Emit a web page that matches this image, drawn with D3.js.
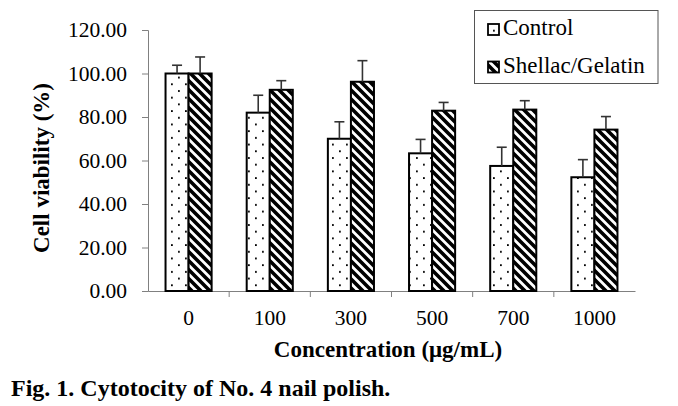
<!DOCTYPE html>
<html><head><meta charset="utf-8">
<script src="https://cdn.jsdelivr.net/npm/d3@7/dist/d3.min.js"></script>
<style>
body{margin:0;background:#fff}
svg{display:block}
svg text{font-family:"Liberation Serif","Times New Roman","Tinos",serif;}
</style>
</head><body><svg id="c" width="678" height="406"></svg>
<script>
const categories = ["0","100","300","500","700","1000"];
const seriesNames = ["Control","Shellac/Gelatin"];
const controlValues = [100, 82, 70, 63.3, 57.5, 52.3];
const controlErrors = [3.8, 8, 7.8, 6.4, 8.6, 8.1];
const shellacValues = [100, 92.5, 96.2, 82.9, 83.4, 74.2];
const shellacErrors = [7.6, 4.2, 9.7, 3.8, 4.1, 6];
const yTicks = [0,20,40,60,80,100,120];
const FONT = "Liberation Serif";

const svg = d3.select("#c");
const defs = svg.append("defs");
const dots = defs.append("pattern").attr("id","dots").attr("patternUnits","userSpaceOnUse")
  .attr("width",14).attr("height",13.4);
dots.append("rect").attr("width",14).attr("height",13.4).attr("fill","#fff");
dots.append("rect").attr("x",3).attr("y",3).attr("width",1.8).attr("height",1.8).attr("fill","#000");
dots.append("rect").attr("x",10).attr("y",9.7).attr("width",1.8).attr("height",1.8).attr("fill","#000");
const diag = defs.append("pattern").attr("id","diag").attr("patternUnits","userSpaceOnUse")
  .attr("width",9).attr("height",9);
diag.append("rect").attr("width",9).attr("height",9).attr("fill","#fff");
diag.append("path").attr("d","M-2,-2 L11,11 M-2,7 L2,11 M7,-2 L11,2").attr("stroke","#000").attr("stroke-width",3.6);

const x = d3.scaleBand().domain(categories).range([148,635]).paddingInner(35/81).paddingOuter(35/162);
const xs = d3.scaleBand().domain(seriesNames).range([0, x.bandwidth()]);
const y = d3.scaleLinear().domain([0,120]).range([291,30]);

const data = [];
categories.forEach((c,i)=>{
  data.push({c, s:seriesNames[0], v:controlValues[i], e:controlErrors[i], fill:"url(#dots)"});
  data.push({c, s:seriesNames[1], v:shellacValues[i], e:shellacErrors[i], fill:"url(#diag)"});
});

// axes
const yAxis = svg.append("g").attr("transform","translate(148,0)")
  .call(d3.axisLeft(y).tickValues(yTicks).tickFormat(d3.format(".2f")).tickSize(6).tickPadding(15));
yAxis.attr("font-family",FONT);
yAxis.select(".domain").attr("stroke","#808080");
yAxis.selectAll(".tick line").attr("stroke","#808080");
yAxis.selectAll("text").attr("font-size",21.5).attr("fill","#000").attr("dy","0.32em").style("font-family",FONT);

const xAxis = svg.append("g").attr("transform","translate(0,291)")
  .call(d3.axisBottom(x).tickSize(0).tickPadding(19).tickSizeOuter(0));
xAxis.attr("font-family",FONT);
xAxis.select(".domain").attr("stroke","#808080");
xAxis.selectAll("text").attr("font-size",21.5).attr("fill","#000").style("font-family",FONT);
const step = x.step();
svg.append("g").selectAll("line").data(categories.slice(1)).join("line")
  .attr("x1",d=>x(d)-step*x.paddingInner()/2).attr("x2",d=>x(d)-step*x.paddingInner()/2)
  .attr("y1",291).attr("y2",297).attr("stroke","#808080");

// bars
svg.append("g").selectAll("rect").data(data).join("rect")
  .attr("x",d=>x(d.c)+xs(d.s)).attr("width",xs.bandwidth())
  .attr("y",d=>y(d.v)).attr("height",d=>y(0)-y(d.v))
  .attr("fill",d=>d.fill).attr("stroke","#000").attr("stroke-width",2);

// error bars (upper)
const eb = svg.append("g").attr("stroke","#333").attr("stroke-width",1.6);
data.forEach(d=>{
  const cx = x(d.c)+xs(d.s)+xs.bandwidth()/2;
  eb.append("line").attr("x1",cx).attr("x2",cx).attr("y1",y(d.v)).attr("y2",y(d.v+d.e));
  eb.append("line").attr("x1",cx-5).attr("x2",cx+5).attr("y1",y(d.v+d.e)).attr("y2",y(d.v+d.e));
});

// titles
svg.append("text").attr("x",388).attr("y",357).attr("text-anchor","middle").style("font-family",FONT)
  .attr("font-size",23).attr("font-weight","bold").text("Concentration (μg/mL)");
svg.append("text").attr("transform","translate(49,168) rotate(-90)").attr("text-anchor","middle").style("font-family",FONT)
  .attr("font-size",23).attr("font-weight","bold").text("Cell viability (%)");
svg.append("text").attr("x",11).attr("y",396).style("font-family",FONT)
  .attr("font-size",24).attr("font-weight","bold").text("Fig. 1. Cytotocity of No. 4 nail polish.");

// legend
const lg = svg.append("g");
lg.append("rect").attr("x",474.5).attr("y",10.5).attr("width",183.5).attr("height",73)
  .attr("fill","#fff").attr("stroke","#555").attr("stroke-width",1);
seriesNames.forEach((s,i)=>{
  const base = i===0 ? 35 : 72.5;
  lg.append("rect").attr("x",488).attr("y",base-11).attr("width",11).attr("height",11)
    .attr("fill", i===0 ? "url(#dots)" : "url(#diag)").attr("stroke","#000").attr("stroke-width",1.8);
  lg.append("text").attr("x",503).attr("y",base).attr("font-size",23).style("font-family",FONT).text(s);
});
</script></body></html>
